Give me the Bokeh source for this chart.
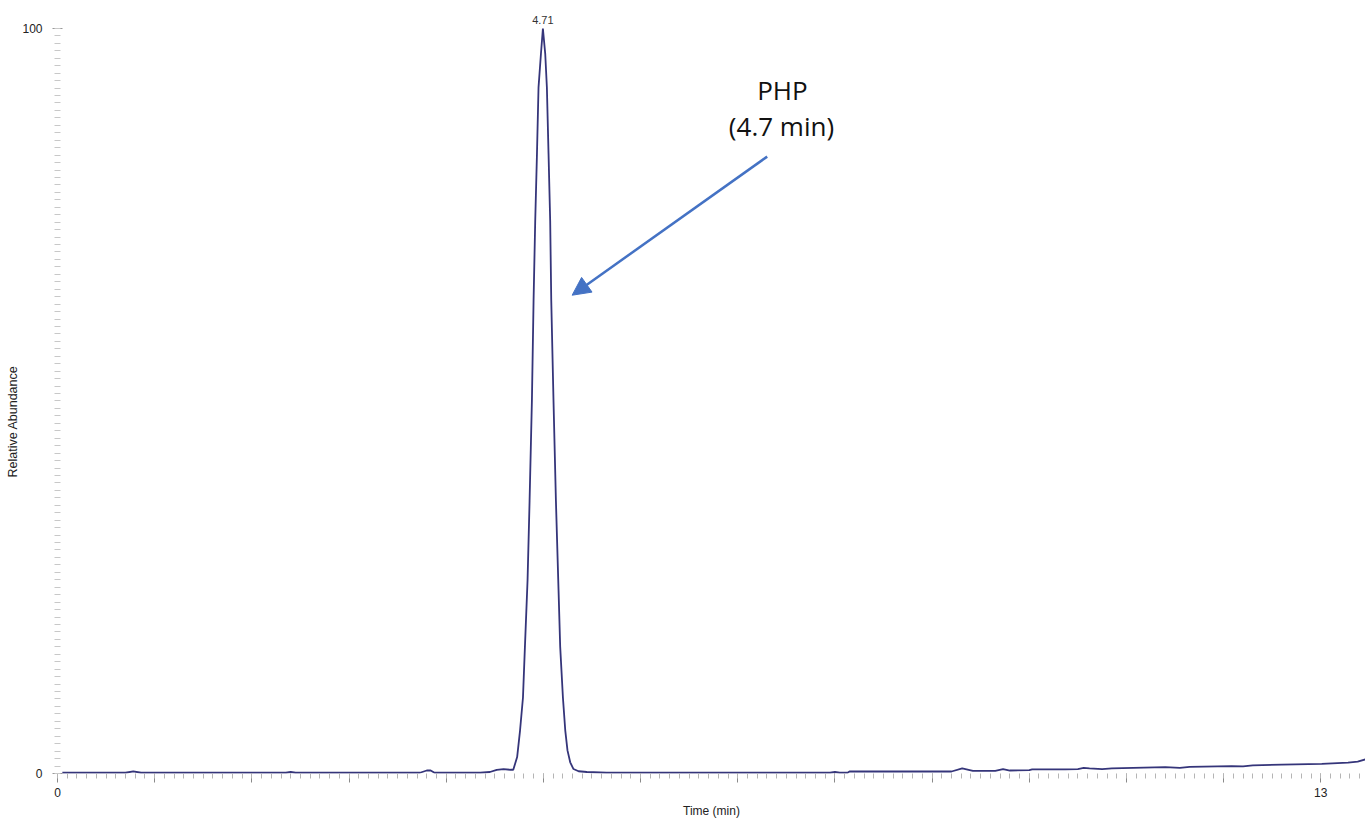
import math
from bokeh.plotting import figure
from bokeh.models import Range1d, FixedTicker, Label, Arrow, NormalHead, Title
from bokeh.embed import file_html
from bokeh.resources import INLINE

# ---- data ----
time_min = [0.05, 0.70, 0.78, 0.86, 2.35, 2.40, 2.45, 3.73, 3.80, 3.84, 3.88,
            4.35, 4.45, 4.52, 4.59, 4.66, 4.69, 4.73, 4.76, 4.79, 4.81, 4.837,
            4.858, 4.882, 4.899, 4.916, 4.934, 4.950, 4.975, 4.995, 5.019, 5.036,
            5.053, 5.070, 5.081, 5.104, 5.129, 5.156, 5.173, 5.201, 5.225, 5.248,
            5.276, 5.310, 5.362, 5.448, 5.65, 7.95, 8.00, 8.05, 8.13, 8.15, 9.20,
            9.31, 9.42, 9.65, 9.73, 9.80, 10.00, 10.03, 10.37, 10.50, 10.56, 10.62,
            10.75, 10.85, 11.40, 11.55, 11.65, 12.08, 12.20, 12.30, 12.60, 13.01,
            13.28, 13.38, 13.46]
rel_abundance = [0.1, 0.1, 0.3, 0.1, 0.1, 0.2, 0.1, 0.1, 0.4, 0.4, 0.1,
                 0.1, 0.2, 0.5, 0.6, 0.5, 0.5, 2.2, 5.8, 10.2, 17.0, 25.9,
                 36.6, 50.1, 63.5, 74.2, 83.2, 92.1, 96.6, 100.0, 96.6, 92.1,
                 83.2, 74.2, 63.5, 50.1, 36.6, 24.6, 17.0, 10.2, 5.8, 3.1,
                 1.5, 0.6, 0.3, 0.2, 0.1, 0.1, 0.2, 0.1, 0.1, 0.27, 0.27,
                 0.7, 0.35, 0.35, 0.6, 0.4, 0.45, 0.55, 0.55, 0.6, 0.75, 0.7,
                 0.6, 0.7, 0.85, 0.75, 0.9, 1.0, 0.95, 1.1, 1.2, 1.3,
                 1.45, 1.6, 1.9]
peak_time = 4.995
peak_height = 100.0
peak_label = "4.71"
x_major_ticks = list(range(0, 14))
x_tick_labels = {0: "0", 13: "13"}
y_major_ticks = [0, 100]
compound_name = "PHP"
compound_rt = "(4.7 min)"

# ---- layout constants ----
X_MAX = 13.46
Y_MAX = 102.68
TRACE = "#35357a"
ARROW = "#4472C4"

p = figure(width=1365, height=823, output_backend="svg", toolbar_location=None,
           x_range=Range1d(0, X_MAX), y_range=Range1d(0, Y_MAX),
           min_border_left=57, min_border_right=0, min_border_top=8,
           min_border_bottom=50)
p.outline_line_color = None
p.grid.visible = False
p.background_fill_color = "white"
p.border_fill_color = "white"

p.line(time_min, rel_abundance, line_color=TRACE, line_width=1.8)

# x axis
xa = p.xaxis[0]
xa.ticker = FixedTicker(ticks=x_major_ticks,
                        minor_ticks=[i / 10 for i in range(0, int(X_MAX * 10) + 1)])
xa.major_label_overrides = {t: x_tick_labels.get(t, "") for t in x_major_ticks}
xa.axis_line_color = None
xa.major_tick_in = 0
xa.major_tick_out = 9
xa.minor_tick_in = 0
xa.minor_tick_out = 5
xa.major_tick_line_color = "#8a8a8a"
xa.minor_tick_line_color = "#b5b5b5"
xa.major_label_standoff = 5
xa.major_label_text_font = "Liberation Sans"
xa.major_label_text_font_size = "12px"
xa.major_label_text_color = "#222222"
xa.axis_label = "Time (min)"
xa.axis_label_text_font = "Liberation Sans"
xa.axis_label_text_font_size = "12px"
xa.axis_label_text_font_style = "normal"
xa.axis_label_text_color = "#222222"
xa.axis_label_standoff = 4

# y axis
ya = p.yaxis[0]
ya.ticker = FixedTicker(ticks=y_major_ticks, minor_ticks=list(range(0, 101)))
ya.axis_line_color = None
ya.major_tick_in = 5
ya.major_tick_out = 5
ya.minor_tick_in = 3
ya.minor_tick_out = 3
ya.major_tick_line_color = "#9a9a9a"
ya.minor_tick_line_color = "#c8c8c8"
ya.major_label_standoff = 10
ya.major_label_text_font = "Liberation Sans"
ya.major_label_text_font_size = "12px"
ya.major_label_text_color = "#222222"

p.add_layout(Title(text="Relative Abundance", align="left", offset=296,
                   text_font="Liberation Sans", text_font_size="12.5px",
                   text_font_style="normal", text_color="#222222",
                   standoff=0), "left")

# peak label
p.add_layout(Label(x=peak_time, y=peak_height, text=peak_label,
                   text_align="center", text_baseline="bottom", y_offset=4,
                   text_font="Liberation Sans", text_font_size="11px",
                   text_color="#333333"))

# annotation
p.add_layout(Label(x=7.46, y=91.8, text=compound_name, text_align="center",
                   text_baseline="alphabetic", text_font="Open Sans",
                   text_font_size="26px", text_color="#111111"))
p.add_layout(Label(x=7.45, y=86.9, text=compound_rt, text_align="center",
                   text_baseline="alphabetic", text_font="Open Sans",
                   text_font_size="26px", text_color="#111111"))
p.add_layout(Arrow(x_start=7.303, y_start=82.8, x_end=5.296, y_end=64.2,
                   line_color=ARROW, line_width=2.5,
                   end=NormalHead(size=18, fill_color=ARROW, line_color=ARROW)))

open("out.html", "w").write(file_html(p, INLINE))
